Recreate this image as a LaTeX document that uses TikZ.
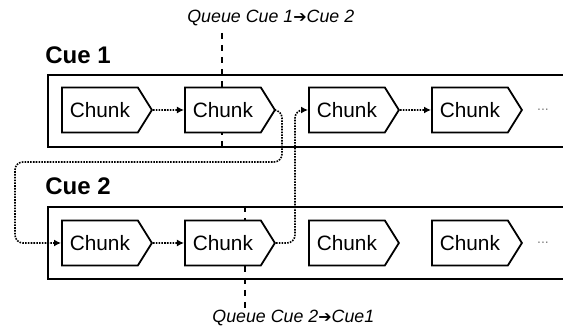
\documentclass[tikz,border=0pt]{standalone}
\usepackage{fontspec}
\setmainfont{Liberation Sans}
\newfontfamily\symfont{DejaVu Sans}
\usepackage{tikz}
\usetikzlibrary{arrows.meta, shapes.symbols}
\newcommand{\qto}{{\symfont\upshape\fontsize{8}{11}\selectfont ➔}}
\tikzstyle{lane}=[draw, line width=1pt, rectangle, minimum width=290pt, minimum height=36pt, anchor=west, inner sep=0pt]
\tikzstyle{chunk}=[draw, line width=0.9pt, signal, signal to=east, signal pointer angle=116, minimum width=45pt, minimum height=22.5pt, fill=white, anchor=west, font=\fontsize{10.4}{12}\selectfont]
\tikzstyle{flow}=[line width=0.8pt, dash pattern=on 0.8pt off 0.6pt, -{Latex[length=3.5pt, width=3.5pt]}, rounded corners=4pt]
\tikzstyle{cue}=[inner sep=0pt, anchor=west, font=\fontsize{12}{14}\selectfont\bfseries]
\tikzstyle{queue}=[inner sep=0pt, anchor=west, font=\fontsize{8.9}{11}\selectfont\itshape]

\begin{document}
\begin{tikzpicture}[x=0.5pt, y=-0.5pt]
        \useasboundingbox (0,0) rectangle (563,330);
        \node[lane] (l1) at (47,111) {}; \node[lane] (l2) at (47,243) {};
        \node[cue] (k1) at (45,55) {Cue 1}; \node[cue] (k2) at (45,186) {Cue 2};
        % queue markers behind the chunks
        \node[queue] (q1) at (187,18) {Queue Cue 1\qto Cue 2};
        \node[queue] (q2) at (212,318) {Queue Cue 2\qto Cue1};
        \coordinate (m1) at (222,33); \coordinate (m2) at (245,310);
        \draw[dashed, line width=0.9pt] (m1) -- (m1 |- l1.south);
        \draw[dashed, line width=0.9pt] (m2 |- l2.north) -- (m2);
        \foreach \x [count=\i] in {61,184,308,431} {
             \node[chunk] (a\i) at (\x,110) {Chunk};
             \node[chunk] (b\i) at (\x,243) {Chunk};
        }
        \node[gray, font=\scriptsize] (e1) at (543,110) {...}; \node[gray, font=\scriptsize] (e2) at (543,243) {...};
        \draw[flow] (a1) -- (a2); \draw[flow] (a3) -- (a4); \draw[flow] (b1) -- (b2);
        \draw[flow] (a2.east) -| (282,162) -| (15,243) -- (b1.west);
        \draw[flow] (b2.east) -| (295,110) -- (a3.west);
    \end{tikzpicture}
\end{document}
